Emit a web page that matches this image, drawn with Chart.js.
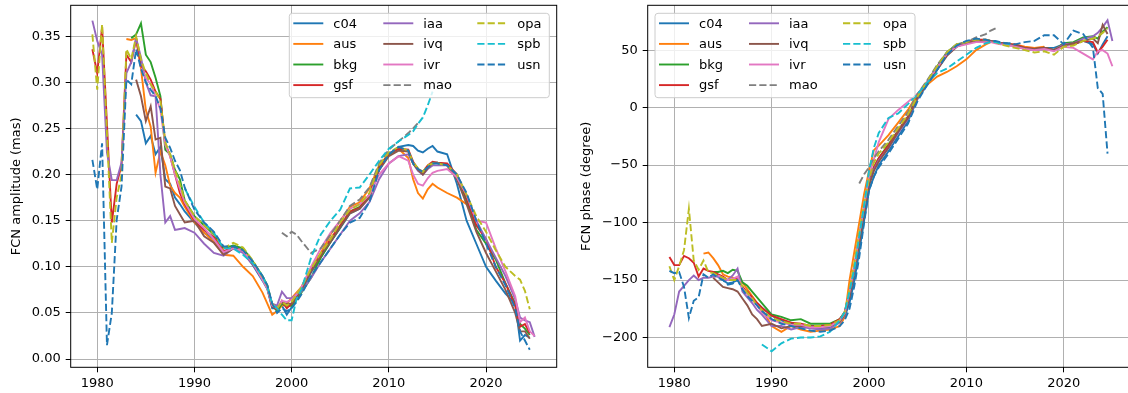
<!DOCTYPE html>
<html>
<head>
<meta charset="utf-8">
<script src="https://cdn.jsdelivr.net/npm/chart.js@4.4.0/dist/chart.umd.min.js"></script>
<style>
html, body { margin: 0; padding: 0; background: #fff; overflow: hidden; }
#wrap { position: relative; width: 1128px; height: 393px; overflow: hidden; }
#ampChart { position: absolute; left: 0; top: 0; }
#phaseChart { position: absolute; left: 564px; top: 0; }
</style>
</head>
<body>
<div id="wrap">
  <canvas id="ampChart" width="564" height="393"></canvas>
  <canvas id="phaseChart" width="580" height="393"></canvas>
</div>
<script>
// sampling epochs (years)
const YEARS = [
    1979.5, 1980, 1980.5, 1981, 1981.5, 1982, 1982.5, 1983, 1983.5,
    1984, 1984.5, 1985, 1985.5, 1986, 1986.5, 1987, 1987.5, 1988, 1988.5,
    1989, 1990, 1991, 1992, 1993, 1994, 1995, 1996, 1997, 1997.5, 1998, 1998.5,
    1999, 1999.5, 2000, 2000.5, 2001, 2002, 2003, 2004, 2005, 2006, 2007, 2008, 2009, 2010, 2011, 2012,
    2012.5, 2013, 2013.5, 2014, 2014.5, 2015, 2016, 2017, 2018, 2019, 2020, 2021, 2022, 2023, 2023.5, 2024, 2024.5, 2025
];
const X_TICKS = [1980, 1990, 2000, 2010, 2020];
const AMP_TICKS = [0, 0.05, 0.10, 0.15, 0.20, 0.25, 0.30, 0.35];
const PHASE_TICKS = [-200, -150, -100, -50, 0, 50];
const SERIES = ['c04', 'aus', 'bkg', 'gsf', 'iaa', 'ivq', 'ivr', 'mao', 'opa', 'spb', 'usn'];

// FCN amplitude (mas)
const AMP_C04 = [
    null, null, null, null, null, null, null, null, null,
    0.265, 0.258, 0.234, 0.242, 0.222, 0.230, 0.195, 0.190, 0.175, 0.168,
    0.160, 0.148, 0.137, 0.130, 0.115, 0.120, 0.116, 0.102, 0.085, 0.076, 0.055, 0.055,
    0.058, 0.048, 0.056, 0.066, 0.074, 0.094, 0.110, 0.127, 0.142, 0.158, 0.163, 0.176, 0.205, 0.222, 0.230, 0.232,
    0.231, 0.226, 0.224, 0.228, 0.231, 0.225, 0.222, 0.190, 0.150, 0.125, 0.100, 0.085, 0.071, 0.060, 0.020, 0.026, 0.023, null
];
const AMP_AUS = [
    null, null, null, null, null, null, null, 0.347, 0.346,
    0.348, 0.315, 0.270, 0.252, 0.202, 0.225, 0.210, 0.188, 0.180, 0.175,
    0.165, 0.148, 0.137, 0.127, 0.113, 0.112, 0.100, 0.090, 0.072, 0.060, 0.048, 0.052,
    0.058, 0.060, 0.066, 0.072, 0.078, 0.098, 0.115, 0.135, 0.150, 0.165, 0.170, 0.185, 0.210, 0.222, 0.228, 0.218,
    0.195, 0.180, 0.174, 0.184, 0.190, 0.186, 0.180, 0.175, 0.168, null, null, null, null, null, null, null, null, null
];
const AMP_BKG = [
    null, null, null, null, null, null, null, null, 0.348,
    0.352, 0.364, 0.330, 0.322, 0.305, 0.285, 0.227, 0.222, 0.205, 0.195,
    0.172, 0.155, 0.145, 0.135, 0.120, 0.123, 0.120, 0.106, 0.090, 0.080, 0.058, 0.052,
    0.060, 0.057, 0.058, 0.064, 0.072, 0.088, 0.110, 0.127, 0.143, 0.160, 0.165, 0.178, 0.208, 0.222, 0.228, 0.226,
    0.212, 0.206, 0.201, 0.208, 0.212, 0.213, 0.210, 0.200, 0.172, 0.140, 0.125, 0.108, 0.082, 0.060, 0.038, 0.033, 0.026, null
];
const AMP_GSF = [
    0.336, 0.310, 0.360, 0.255, 0.148, 0.190, 0.210, 0.330, 0.322,
    0.347, 0.318, 0.312, 0.303, 0.290, 0.282, 0.234, 0.220, 0.200, 0.180,
    0.168, 0.150, 0.140, 0.132, 0.117, 0.121, 0.117, 0.104, 0.087, 0.077, 0.057, 0.054,
    0.063, 0.055, 0.060, 0.067, 0.077, 0.096, 0.112, 0.130, 0.145, 0.160, 0.164, 0.178, 0.207, 0.223, 0.228, 0.227,
    0.214, 0.206, 0.203, 0.210, 0.214, 0.213, 0.212, 0.200, 0.175, 0.145, 0.130, 0.100, 0.082, 0.058, 0.035, 0.038, 0.028, null
];
const AMP_IAA = [
    0.367, 0.345, 0.330, 0.224, 0.194, 0.194, 0.213, 0.310, 0.322,
    0.348, 0.327, 0.300, 0.286, 0.285, 0.200, 0.148, 0.155, 0.140, 0.141,
    0.142, 0.137, 0.125, 0.115, 0.112, 0.120, 0.115, 0.102, 0.088, 0.078, 0.060, 0.058,
    0.073, 0.066, 0.066, 0.070, 0.073, 0.088, 0.105, 0.120, 0.135, 0.150, 0.158, 0.170, 0.195, 0.212, 0.220, 0.222,
    0.212, 0.204, 0.200, 0.206, 0.210, 0.210, 0.210, 0.200, 0.178, 0.150, 0.130, 0.110, 0.090, 0.065, 0.045, 0.042, 0.040, 0.024
];
const AMP_IVQ = [
    null, null, null, null, null, null, null, null, null,
    0.303, 0.285, 0.258, 0.274, 0.238, 0.240, 0.187, 0.185, 0.166, 0.157,
    0.148, 0.150, 0.133, 0.126, 0.113, 0.120, 0.118, 0.103, 0.087, 0.077, 0.057, 0.056,
    0.061, 0.060, 0.060, 0.066, 0.075, 0.095, 0.113, 0.127, 0.143, 0.158, 0.163, 0.175, 0.205, 0.220, 0.226, 0.225,
    0.212, 0.205, 0.200, 0.207, 0.213, 0.213, 0.210, 0.195, 0.168, 0.138, 0.115, 0.095, 0.075, 0.050, 0.030, 0.030, 0.022, null
];
const AMP_IVR = [
    null, null, null, null, null, null, null, null, null,
    null, 0.315, 0.305, 0.298, 0.285, 0.270, 0.232, 0.220, 0.200, 0.185,
    0.170, 0.152, 0.142, 0.130, 0.116, 0.120, 0.117, 0.104, 0.086, 0.076, 0.058, 0.055,
    0.063, 0.062, 0.064, 0.070, 0.078, 0.100, 0.120, 0.137, 0.150, 0.163, 0.168, 0.178, 0.200, 0.212, 0.220, 0.215,
    0.200, 0.190, 0.188, 0.196, 0.202, 0.204, 0.206, 0.197, 0.178, 0.150, 0.148, 0.120, 0.095, 0.068, 0.040, 0.045, 0.030, 0.025
];
const AMP_MAO = [
    null, null, null, null, null, null, null, null, null,
    null, null, null, null, null, null, null, null, null, null,
    null, null, null, null, null, null, null, null, null, null, null, null,
    0.137, 0.133, 0.138, 0.135, 0.128, 0.115, 0.120, 0.135, 0.150, 0.166, 0.173, 0.186, 0.212, 0.227, 0.236, 0.245,
    0.250, 0.256, null, null, null, null, null, null, null, null, null, null, null, null, null, null, null, null
];
const AMP_OPA = [
    0.352, 0.292, 0.363, 0.245, 0.126, 0.175, 0.200, 0.336, 0.325,
    0.350, 0.325, 0.310, 0.298, 0.290, 0.280, 0.235, 0.222, 0.205, 0.190,
    0.172, 0.155, 0.145, 0.136, 0.120, 0.126, 0.121, 0.107, 0.089, 0.079, 0.060, 0.055,
    0.062, 0.058, 0.062, 0.070, 0.078, 0.098, 0.115, 0.130, 0.148, 0.162, 0.168, 0.180, 0.210, 0.224, 0.230, 0.226,
    0.213, 0.207, 0.203, 0.210, 0.212, 0.212, 0.210, 0.200, 0.178, 0.155, 0.138, 0.118, 0.100, 0.090, 0.086, 0.074, 0.054, null
];
const AMP_SPB = [
    null, null, null, null, null, null, null, null, null,
    null, null, null, null, null, null, null, null, null, null,
    0.185, 0.165, 0.148, 0.137, 0.120, 0.120, 0.113, 0.104, 0.090, 0.078, 0.060, 0.055,
    0.048, 0.042, 0.042, 0.065, 0.075, 0.110, 0.135, 0.150, 0.162, 0.185, 0.186, 0.200, 0.215, 0.228, 0.236, 0.243,
    0.247, 0.255, 0.262, 0.275, 0.290, null, null, null, null, null, null, null, null, null, null, null, null, null
];
const AMP_USN = [
    0.216, 0.184, 0.234, 0.015, 0.050, 0.151, 0.187, 0.303, 0.298,
    0.336, 0.315, 0.300, 0.292, 0.285, 0.272, 0.240, 0.229, 0.215, 0.205,
    0.186, 0.162, 0.148, 0.138, 0.122, 0.122, 0.118, 0.106, 0.090, 0.080, 0.060, 0.050,
    0.055, 0.052, 0.055, 0.062, 0.070, 0.090, 0.105, 0.120, 0.135, 0.148, 0.153, 0.170, 0.205, 0.222, 0.230, 0.226,
    0.212, 0.206, 0.203, 0.208, 0.212, 0.212, 0.210, 0.200, 0.180, 0.150, 0.125, 0.100, 0.080, 0.055, 0.030, 0.020, 0.010, null
];

// FCN phase (degree)
const PHASE_C04 = [
    null, null, null, null, null, null, null, null, null,
    -145, -147, -150, -153, -152, -150, -156, -162, -166, -170,
    -174, -181, -185, -188, -189, -192, -192, -191, -186, -182, -170, -150,
    -125, -98, -72, -60, -50, -38, -25, -12, 8, 20, 33, 46, 53, 57, 58, 59,
    58, 57, 56, 55, 55, 54, 52, 51, 52, 52, 55, 55, 58, 55, 47, 55, 62, null
];
const PHASE_AUS = [
    null, null, null, null, null, null, null, -127, -126,
    -131, -137, -145, -147, -148, -150, -152, -158, -164, -170,
    -175, -190, -195, -190, -193, -195, -194, -193, -190, -182, -150, -125,
    -100, -75, -55, -37, -33, -24, -13, -2, 12, 20, 27, 31, 36, 42, 50, 55,
    57, 57, 56, 56, 55, 55, 53, 52, 53, null, null, null, null, null, null, null, null, null
];
const PHASE_BKG = [
    null, null, null, null, null, null, null, null, null,
    -143, -143, -142, -144, -141, -142, -152, -155, -160, -165,
    -170, -180, -182, -185, -184, -188, -188, -188, -184, -178, -162, -140,
    -112, -88, -64, -52, -44, -32, -20, -8, 10, 23, 36, 48, 55, 57, 58, 58,
    58, 57, 56, 55, 55, 54, 51, 51, 52, 50, 56, 57, 61, 62, 60, 66, 70, null
];
const PHASE_GSF = [
    -130, -137, -137, -129, -131, -135, -147, -140, -142,
    -143, -145, -147, -150, -150, -149, -156, -160, -165, -170,
    -174, -181, -184, -187, -188, -190, -190, -189, -184, -178, -160, -138,
    -112, -88, -65, -52, -44, -33, -20, -8, 9, 22, 35, 47, 54, 57, 59, 59,
    58, 57, 56, 56, 55, 55, 52, 51, 52, 50, 55, 55, 58, 57, 48, 53, 59, null
];
const PHASE_IAA = [
    -191, -180, -160, -155, -150, -146, -150, -148, -148,
    -147, -147, -150, -150, -146, -140, -160, -165, -170, -176,
    -180, -190, -190, -193, -191, -192, -193, -192, -187, -180, -163, -140,
    -115, -90, -66, -54, -46, -35, -22, -10, 8, 22, 34, 47, 54, 56, 58, 58,
    58, 57, 56, 55, 54, 54, 51, 50, 51, 50, 55, 56, 60, 62, 65, 70, 76, 58
];
const PHASE_IVQ = [
    null, null, null, null, null, null, null, null, null,
    -148, -152, -156, -157, -158, -160, -166, -172, -180, -184,
    -190, -188, -192, -190, -190, -190, -191, -190, -186, -180, -165, -142,
    -118, -93, -68, -55, -47, -35, -21, -9, 9, 21, 33, 45, 53, 56, 58, 58,
    58, 57, 56, 56, 55, 54, 52, 51, 52, 50, 54, 56, 58, 60, 56, 72, 64, null
];
const PHASE_IVR = [
    null, null, null, null, null, null, null, null, null,
    null, -146, -148, -150, -149, -147, -157, -162, -167, -172,
    -178, -185, -187, -189, -189, -191, -191, -190, -185, -179, -160, -138,
    -110, -86, -60, -45, -30, -10, -2, 5, 12, 23, 35, 47, 53, 55, 57, 57,
    57, 56, 55, 55, 54, 53, 51, 50, 51, 49, 53, 52, 47, 42, 49, 50, 47, 36
];
const PHASE_MAO = [
    null, null, null, null, null, null, null, null, null,
    null, null, null, null, null, null, null, null, null, null,
    null, null, null, null, null, null, null, null, null, null, null, null,
    -66, -58, -52, -44, -38, -28, -16, -4, 12, 24, 37, 48, 55, 57, 61, 64,
    67, 69, null, null, null, null, null, null, null, null, null, null, null, null, null, null, null, null
];
const PHASE_OPA = [
    -138, -150, -138, -124, -88, -133, -141, -133, -143,
    -144, -146, -148, -150, -150, -150, -155, -161, -166, -172,
    -176, -183, -186, -188, -188, -190, -190, -189, -185, -178, -158, -135,
    -108, -84, -62, -48, -40, -30, -18, -6, 10, 23, 36, 48, 55, 57, 59, 59,
    58, 57, 55, 54, 53, 52, 50, 48, 49, 46, 53, 54, 58, 60, 62, 65, 69, null
];
const PHASE_SPB = [
    null, null, null, null, null, null, null, null, null,
    null, null, null, null, null, null, null, null, null, null,
    -206, -212, -205, -201, -200, -200, -199, -195, -185, -178, -160, -140,
    -112, -85, -55, -35, -22, -9, -5, 3, 12, 22, 30, 34, 40, 46, 52, 56,
    57, 57, 56, 56, 55, null, null, null, null, null, null, null, null, null, null, null, null, null
];
const PHASE_USN = [
    -142, -144, -143, -156, -183, -168, -165, -145, -148,
    -145, -148, -150, -154, -153, -150, -158, -164, -168, -172,
    -177, -184, -188, -190, -192, -194, -195, -194, -190, -185, -175, -155,
    -130, -100, -72, -60, -52, -40, -27, -14, 6, 20, 33, 46, 54, 58, 60, 59,
    58, 58, 57, 56, 56, 55, 57, 58, 63, 63, 55, 67, 64, 52, 17, 12, -40, null
];

const AMP_SERIES = [AMP_C04, AMP_AUS, AMP_BKG, AMP_GSF, AMP_IAA, AMP_IVQ, AMP_IVR, AMP_MAO, AMP_OPA, AMP_SPB, AMP_USN];
const PHASE_SERIES = [PHASE_C04, PHASE_AUS, PHASE_BKG, PHASE_GSF, PHASE_IAA, PHASE_IVQ, PHASE_IVR, PHASE_MAO, PHASE_OPA, PHASE_SPB, PHASE_USN];

// styling (matplotlib tab10 look)
const LINE_COLORS = ['#1f77b4', '#ff7f0e', '#2ca02c', '#d62728', '#9467bd', '#8c564b', '#e377c2', '#7f7f7f', '#bcbd22', '#17becf', '#1f77b4'];
const DASHED = [false, false, false, false, false, false, false, true, true, true, true];
const TICK_FONT = { family: "'DejaVu Sans', sans-serif", size: 13 };

Chart.defaults.font.family = TICK_FONT.family;
Chart.defaults.font.size = 13;
Chart.defaults.color = '#000';

function makeDatasets(seriesArrays) {
    return SERIES.map((name, i) => ({
        label: name,
        data: YEARS.map((x, j) => ({ x: x, y: seriesArrays[i][j] })).filter(p => p.y !== null),
        borderColor: LINE_COLORS[i],
        backgroundColor: LINE_COLORS[i],
        borderWidth: 1.9,
        borderDash: DASHED[i] ? [7.2, 3.1] : [],
        pointRadius: 0,
        fill: false,
        tension: 0,
        order: SERIES.length - i // later series drawn on top
    }));
}

// legend in three columns inside the axes, like matplotlib ncol=3
const boxLegend = {
    id: 'boxLegend',
    afterDatasetsDraw(chart, args, opts) {
        const ctx = chart.ctx;
        const x0 = opts.left, y0 = opts.top, w = 260, h = 84.4, r = 3;
        ctx.save();
        ctx.beginPath();
        ctx.moveTo(x0 + r, y0);
        ctx.arcTo(x0 + w, y0, x0 + w, y0 + h, r);
        ctx.arcTo(x0 + w, y0 + h, x0, y0 + h, r);
        ctx.arcTo(x0, y0 + h, x0, y0, r);
        ctx.arcTo(x0, y0, x0 + w, y0, r);
        ctx.closePath();
        ctx.fillStyle = 'rgba(255,255,255,0.8)';
        ctx.fill();
        ctx.strokeStyle = '#cccccc';
        ctx.lineWidth = 1;
        ctx.stroke();

        const colX = [4, 94, 188];
        ctx.font = "13px 'DejaVu Sans', sans-serif";
        ctx.textBaseline = 'middle';
        chart.data.datasets.forEach((ds, i) => {
            const hx = x0 + colX[Math.floor(i / 4)];
            const hy = y0 + 10 + (i % 4) * 20.6;
            ctx.strokeStyle = ds.borderColor;
            ctx.lineWidth = ds.borderWidth;
            ctx.setLineDash(ds.borderDash);
            ctx.beginPath();
            ctx.moveTo(hx, hy);
            ctx.lineTo(hx + 30, hy);
            ctx.stroke();
            ctx.setLineDash([]);
            ctx.fillStyle = '#000';
            ctx.fillText(ds.label, hx + 40, hy + 1);
        });
        ctx.restore();
    }
};

// four black spines round the axes
const frame = {
    id: 'frame',
    afterDraw(chart) {
        const { ctx, chartArea: a } = chart;
        ctx.save();
        ctx.strokeStyle = '#000';
        ctx.lineWidth = 1;
        ctx.strokeRect(a.left, a.top, a.right - a.left, a.bottom - a.top);
        ctx.restore();
    }
};

function panelOptions(cfg) {
    const grid = { color: '#b0b0b0', lineWidth: 1, tickLength: 5, tickColor: '#000', tickWidth: 1 };
    return {
        responsive: false,
        animation: false,
        events: [],
        layout: { padding: { left: 0, right: cfg.padRight, top: 5.3, bottom: 0 } },
        plugins: {
            legend: { display: false },
            tooltip: { enabled: false },
            boxLegend: { left: cfg.legendLeft, top: 13.3 }
        },
        scales: {
            x: {
                type: 'linear',
                min: 1977.27,
                max: 2027.27,
                afterBuildTicks: s => { s.ticks = X_TICKS.map(v => ({ value: v })); },
                afterFit: s => { s.height = 25.7; s.paddingLeft = 0; s.paddingRight = 0; },
                ticks: { callback: v => String(v), padding: 4, maxRotation: 0, autoSkip: false, font: TICK_FONT, color: '#000' },
                grid: grid,
                border: { display: false }
            },
            y: {
                type: 'linear',
                min: cfg.yMin,
                max: cfg.yMax,
                afterBuildTicks: s => { s.ticks = cfg.yTicks.map(v => ({ value: v })); },
                afterFit: s => { s.width = cfg.yWidth; s.paddingTop = 0; s.paddingBottom = 0; },
                ticks: { callback: cfg.fmt, padding: 5, autoSkip: false, font: TICK_FONT, color: '#000' },
                grid: grid,
                border: { display: false },
                title: { display: true, text: cfg.title, font: TICK_FONT, color: '#000', padding: { top: cfg.titlePad, bottom: 0 } }
            }
        }
    };
}

new Chart(document.getElementById('ampChart').getContext('2d'), {
    type: 'line',
    data: { datasets: makeDatasets(AMP_SERIES) },
    options: panelOptions({
        yMin: -0.009, yMax: 0.3836, yTicks: AMP_TICKS, yWidth: 70.7,
        fmt: v => v.toFixed(2), title: 'FCN amplitude (mas)', titlePad: 9,
        padRight: 7.3, legendLeft: 289.3
    }),
    plugins: [boxLegend, frame]
});

new Chart(document.getElementById('phaseChart').getContext('2d'), {
    type: 'line',
    data: { datasets: makeDatasets(PHASE_SERIES) },
    options: panelOptions({
        yMin: -225.9, yMax: 89.0, yTicks: PHASE_TICKS, yWidth: 83.7,
        fmt: v => (v < 0 ? '\u2212' + Math.abs(v) : String(v)), title: 'FCN phase (degree)', titlePad: 15,
        padRight: 9.5, legendLeft: 91
    }),
    plugins: [boxLegend, frame]
});
</script>
</body>
</html>
